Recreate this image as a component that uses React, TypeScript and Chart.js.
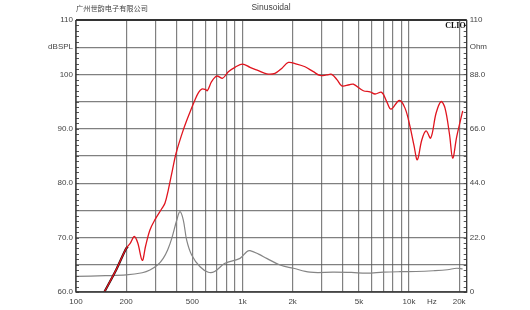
import React, { useEffect, useRef } from "react";
import { Chart, registerables } from "chart.js";

Chart.register(...registerables);

// SPL response (red), left axis dB
const splFreq = [148, 175, 200, 212, 224, 235, 250, 262, 278, 298, 327, 342, 358, 380, 399, 441, 484, 518, 545, 569, 600, 615, 653, 700, 760, 822, 901, 1000, 1110, 1245, 1397, 1567, 1720, 1884, 2117, 2373, 2663, 2922, 3200, 3434, 3700, 3944, 4380, 4630, 5315, 5830, 6250, 6855, 7345, 7795, 8745, 9460, 10140, 10700, 11220, 11920, 12650, 13500, 14530, 15570, 16450, 17500, 18290, 19340, 21010];
const splDb = [60, 64.2, 68.0, 69.0, 70.2, 69.0, 65.8, 68.5, 71.4, 73.3, 75.3, 76.3, 78.7, 82.5, 85.5, 89.8, 93.1, 95.3, 96.7, 97.3, 97.2, 97.0, 98.7, 99.7, 99.3, 100.5, 101.3, 101.9, 101.3, 100.7, 100.1, 100.2, 101.1, 102.2, 101.9, 101.4, 100.5, 99.8, 99.9, 100.0, 99.0, 97.9, 98.1, 98.2, 97.0, 96.8, 96.4, 96.7, 95.0, 93.6, 95.2, 93.8, 90.4, 87.0, 84.3, 87.9, 89.6, 88.3, 92.85, 95.0, 93.8, 89.0, 84.6, 88.55, 93.3];

// Black trace at the low end
const lowFreq = [148, 175, 200, 205];
const lowDb = [60, 64.2, 68.0, 68.3];

// Impedance (gray), right axis Ohm
const impFreq = [100, 150, 200, 250, 278, 310, 334, 355, 376, 403, 421, 441, 462, 495, 556, 623, 680, 785, 966, 1060, 1110, 1250, 1397, 1680, 2019, 2543, 3510, 4500, 5570, 7000, 8830, 11000, 13990, 17000, 19340, 21000];
const impOhm = [6.3, 6.6, 6.9, 7.8, 8.9, 11.0, 13.6, 17.0, 21.7, 29.1, 32.5, 29.1, 21.0, 15.0, 10.2, 8.0, 8.3, 11.6, 13.6, 16.3, 16.7, 15.3, 13.6, 10.9, 9.6, 8.0, 8.0, 7.9, 7.6, 8.0, 8.2, 8.3, 8.6, 9.0, 9.6, 9.3];

// Axes
const xGridValues = [100, 200, 300, 400, 500, 600, 700, 800, 900, 1000, 2000, 3000, 4000, 5000, 6000, 7000, 8000, 9000, 10000, 20000];
const xLabelValues = [100, 200, 500, 1000, 2000, 5000, 10000, 20000];
const xLabelTexts = ["100", "200", "500", "1k", "2k", "5k", "10k", "20k"];
const hzValue = 13700;
const xMin = 100;
const xMax = 22200;

const leftTickValues = [60, 65, 70, 75, 80, 85, 90, 95, 100, 105, 110];
const leftLabelValues = [110, 105, 100, 90, 80, 70, 60];
const leftLabelTexts = ["110", "dBSPL", "100", "90.0", "80.0", "70.0", "60.0"];

const rightTickValues = [0, 22, 44, 66, 88, 99, 110];
const rightLabelTexts = ["0", "22.0", "44.0", "66.0", "88.0", "Ohm", "110"];

const titleLeft = "广州世韵电子有限公司";
const titleCenter = "Sinusoidal";
const brand = "CLIO";

const pts = (xs: number[], ys: number[]) => xs.map((x, i) => ({ x, y: ys[i] }));

const decorPlugin = {
  id: "decor",
  afterDatasetsDraw(chart: any) {
    const { ctx, chartArea } = chart;
    const { left, right, top, bottom } = chartArea;
    const y = chart.scales.y;
    ctx.save();
    // minor ticks
    ctx.strokeStyle = "#555";
    ctx.lineWidth = 1;
    for (let v = 60; v <= 110; v += 1) {
      const py = Math.round(y.getPixelForValue(v)) + 0.5;
      ctx.beginPath();
      ctx.moveTo(left, py);
      ctx.lineTo(left + 3, py);
      ctx.moveTo(right - 3, py);
      ctx.lineTo(right, py);
      ctx.stroke();
    }
    // borders
    ctx.strokeStyle = "#333";
    ctx.lineWidth = 1.3;
    ctx.beginPath();
    ctx.moveTo(left, top);
    ctx.lineTo(left, bottom);
    ctx.lineTo(right, bottom);
    ctx.lineTo(right, top);
    ctx.stroke();
    ctx.lineWidth = 2;
    ctx.beginPath();
    ctx.moveTo(left, top);
    ctx.lineTo(right, top);
    ctx.stroke();
    // CLIO brand
    ctx.fillStyle = "#111";
    ctx.font = "bold 8px 'Liberation Serif', serif";
    ctx.textAlign = "right";
    ctx.textBaseline = "top";
    ctx.fillText(brand, right - 1, top + 2);
    // titles
    ctx.fillStyle = "#444";
    ctx.textBaseline = "middle";
    ctx.textAlign = "left";
    ctx.font = "7.2px 'Noto Sans CJK SC', sans-serif";
    ctx.fillText(titleLeft, left, 8);
    ctx.textAlign = "center";
    ctx.font = "8.5px 'Liberation Sans', Arial, sans-serif";
    ctx.fillText(titleCenter, 271, 8);
    ctx.restore();
  },
};

export default function App() {
  const ref = useRef<HTMLCanvasElement | null>(null);
  useEffect(() => {
    if (!ref.current) return;
    const tickFont = { family: "'Liberation Sans', Arial, sans-serif", size: 8 };
    const gridColor = "rgba(85,85,85,0.75)";
    const chart = new Chart(ref.current, {
      type: "line",
      data: {
        datasets: [
          {
            data: pts(splFreq, splDb),
            borderColor: "#e0141e",
            borderWidth: 1.3,
            pointRadius: 0,
            tension: 0.35,
            yAxisID: "y",
            order: 0,
          },
          {
            data: pts(lowFreq, lowDb),
            borderColor: "#111",
            borderWidth: 2.2,
            pointRadius: 0,
            tension: 0.35,
            yAxisID: "y",
            order: 1,
          },
          {
            data: pts(impFreq, impOhm),
            borderColor: "#858585",
            borderWidth: 1.2,
            pointRadius: 0,
            tension: 0.35,
            yAxisID: "y2",
            order: 2,
          },
        ],
      },
      options: {
        responsive: false,
        animation: false,
        events: [],
        layout: { padding: { top: 20, left: 0, right: 0, bottom: 0 } },
        plugins: { legend: { display: false }, tooltip: { enabled: false }, title: { display: false } },
        scales: {
          x: {
            type: "logarithmic",
            min: xMin,
            max: xMax,
            afterBuildTicks: (s: any) => {
              s.ticks = [...xGridValues, hzValue].map((v) => ({ value: v }));
            },
            afterFit: (s: any) => {
              s.height = 18;
            },
            border: { display: false },
            grid: {
              color: (c: any) => (c.tick && c.tick.value === hzValue ? "rgba(0,0,0,0)" : gridColor),
              lineWidth: 1.2,
              drawTicks: false,
            },
            ticks: {
              autoSkip: false,
              maxRotation: 0,
              padding: 5,
              color: "#444",
              font: tickFont,
              callback: (v: any) => {
                const val = Number(v);
                if (val === hzValue) return "Hz";
                const i = xLabelValues.indexOf(val);
                return i >= 0 ? xLabelTexts[i] : "";
              },
            },
          },
          y: {
            type: "linear",
            position: "left",
            min: 60,
            max: 110,
            afterBuildTicks: (s: any) => {
              s.ticks = leftTickValues.map((v) => ({ value: v }));
            },
            afterFit: (s: any) => {
              s.width = 76;
            },
            border: { display: false },
            grid: { color: gridColor, lineWidth: 1.2, drawTicks: false },
            ticks: {
              autoSkip: false,
              padding: 3,
              color: "#444",
              font: tickFont,
              callback: (v: any) => {
                const i = leftLabelValues.indexOf(Number(v));
                return i >= 0 ? leftLabelTexts[i] : "";
              },
            },
          },
          y2: {
            type: "linear",
            position: "right",
            min: 0,
            max: 110,
            afterBuildTicks: (s: any) => {
              s.ticks = rightTickValues.map((v) => ({ value: v }));
            },
            afterFit: (s: any) => {
              s.width = 63.3;
            },
            border: { display: false },
            grid: { display: false, drawTicks: false },
            ticks: {
              autoSkip: false,
              padding: 3,
              color: "#444",
              font: tickFont,
              callback: (v: any) => {
                const i = rightTickValues.indexOf(Number(v));
                return i >= 0 ? rightLabelTexts[i] : "";
              },
            },
          },
        },
      },
      plugins: [decorPlugin],
    } as any);
    return () => chart.destroy();
  }, []);
  return (
    <div style={{ position: "absolute", left: 0, top: 0, width: 530, height: 310, background: "#fff" }}>
      <canvas ref={ref} width={530} height={310} style={{ width: 530, height: 310, display: "block" }} />
    </div>
  );
}
